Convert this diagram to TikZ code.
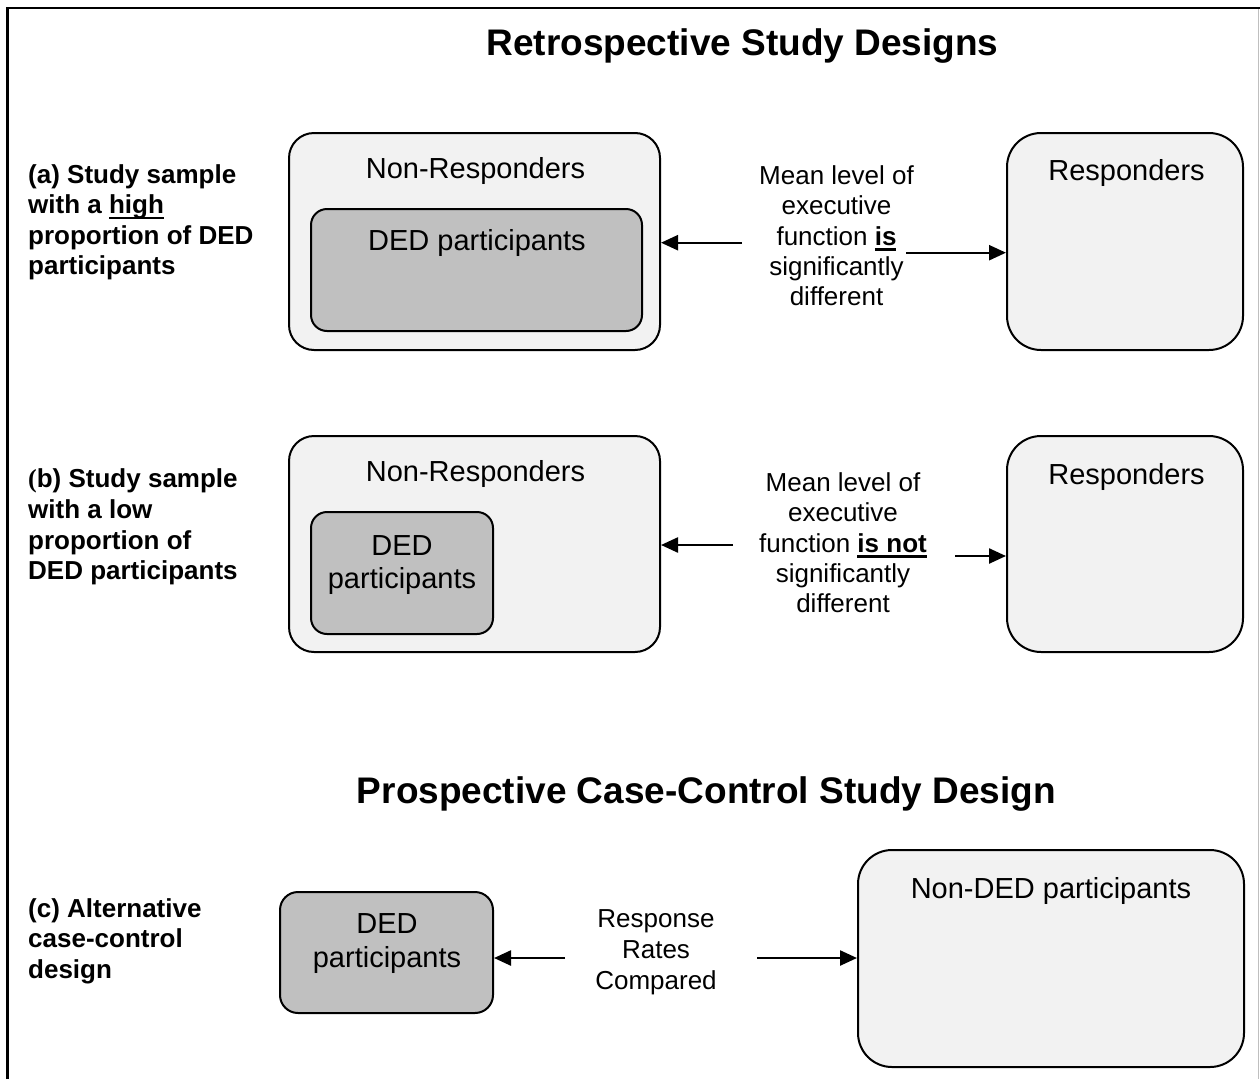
\documentclass[tikz,border=0pt]{standalone}
\usepackage{fontspec}
\setmainfont{Liberation Sans}
\newfontfamily\serifparen{Liberation Serif}
\usetikzlibrary{arrows.meta}
\definecolor{boxlight}{HTML}{F2F2F2}
\definecolor{dedgrey}{HTML}{C0C0C0}
\newcommand\ulbar[1]{\setbox0\hbox{#1}\rlap{\rule[-5.5pt]{\wd0}{2.2pt}}\box0}
\tikzset{
  outerbox/.style={draw=black, line width=2pt, fill=boxlight, inner sep=0pt, rounded corners=25pt},
  dedbox/.style={draw=black, line width=2pt, fill=dedgrey, inner sep=0pt, rounded corners=16pt},
  bigbox/.style={draw=black, line width=2pt, fill=boxlight, inner sep=0pt, rounded corners=34pt},
  titletxt/.style={font=\fontsize{37}{44}\selectfont\bfseries, anchor=base, inner sep=0pt},
  lbltxt/.style={font=\fontsize{26}{30}\selectfont\bfseries, anchor=base west, inner sep=0pt},
  midtxt/.style={font=\fontsize{26}{30}\selectfont, anchor=base, inner sep=0pt},
  boxtxt/.style={font=\fontsize{29}{33}\selectfont, anchor=base, inner sep=0pt},
  arr/.style={line width=2.4pt, -{Triangle[length=17pt,width=15pt]}}
}
\begin{document}
\begin{tikzpicture}[x=1pt,y=-1pt]
\useasboundingbox (0,0) rectangle (1260,1079);
% frame
\draw[line width=2.2pt] (7.5,1079) -- (7.5,8.3) -- (1260,8.3);
\draw[black!25, line width=1pt] (1258.7,9) -- (1258.7,1079);

% titles
\node[titletxt] (t1) at (742.5,55) {Retrospective Study Designs};
\node[titletxt] (t2) at (706.5,803) {Prospective Case-Control Study Design};

% (a)
\node[lbltxt] (la1) at (28,183) {(a) Study sample};
\node[lbltxt] (la2) at (28,213.5) {with a \ulbar{high}};
\node[lbltxt] (la3) at (28,244) {proportion of DED};
\node[lbltxt] (la4) at (28,274.5) {participants};

\node[outerbox, minimum width=371pt, minimum height=217pt] (nra) at (474.5,241.5) {};
\node[dedbox, minimum width=331pt, minimum height=122pt] (deda) at (476.5,270) {};
\node[bigbox, minimum width=236pt, minimum height=217pt] (respa) at (1125,241.5) {};
\node[boxtxt] (nrat) at (475.5,178) {Non-Responders};
\node[boxtxt] (dedat) at (477,250) {DED participants};
\node[boxtxt] (respat) at (1126.5,180) {Responders};

\node[midtxt] (ma1) at (836.5,184) {Mean level of};
\node[midtxt] (ma2) at (836.5,214) {executive};
\node[midtxt] (ma3) at (836.5,245) {function \textbf{\ulbar{is}}};
\node[midtxt] (ma4) at (836.5,275.5) {significantly};
\node[midtxt] (ma5) at (836.5,305) {different};

\coordinate (aL) at (742,242.7);
\coordinate (aR) at (906,252.7);
\draw[arr] (aL) -- (aL -| nra.east);
\draw[arr] (aR) -- (aR -| respa.west);

% (b)
\node[lbltxt] (lb1) at (28,487) {{\serifparen(}b) Study sample};
\node[lbltxt] (lb2) at (28,518) {with a low};
\node[lbltxt] (lb3) at (28,549) {proportion of};
\node[lbltxt] (lb4) at (28,579) {DED participants};

\node[outerbox, minimum width=371pt, minimum height=216pt] (nrb) at (474.5,544) {};
\node[dedbox, minimum width=182pt, minimum height=122pt] (dedb) at (402,573) {};
\node[bigbox, minimum width=236pt, minimum height=216pt] (respb) at (1125,544) {};
\node[boxtxt] (nrbt) at (475.5,481) {Non-Responders};
\node[boxtxt] (dedbt1) at (402,555) {DED};
\node[boxtxt] (dedbt2) at (402,588) {participants};
\node[boxtxt] (respbt) at (1126.5,484) {Responders};

\node[midtxt] (mb1) at (843,491) {Mean level of};
\node[midtxt] (mb2) at (843,521) {executive};
\node[midtxt] (mb3) at (843,552) {function \textbf{\ulbar{is not}}};
\node[midtxt] (mb4) at (843,582) {significantly};
\node[midtxt] (mb5) at (843,612) {different};

\coordinate (bL) at (733,545);
\coordinate (bR) at (955,556);
\draw[arr] (bL) -- (bL -| nrb.east);
\draw[arr] (bR) -- (bR -| respb.west);

% (c)
\node[lbltxt] (lc1) at (28,917) {(c) Alternative};
\node[lbltxt] (lc2) at (28,947) {case-control};
\node[lbltxt] (lc3) at (28,978) {design};

\node[dedbox, rounded corners=18pt, minimum width=213pt, minimum height=121pt] (dedc) at (386.5,952.5) {};
\node[bigbox, minimum width=386pt, minimum height=217pt] (nonded) at (1051,958.5) {};
\node[boxtxt] (dedct1) at (387,933) {DED};
\node[boxtxt] (dedct2) at (387,967) {participants};
\node[boxtxt] (nondedt) at (1051,898) {Non-DED participants};

\node[midtxt] (rc1) at (656,927) {Response};
\node[midtxt] (rc2) at (656,958) {Rates};
\node[midtxt] (rc3) at (656,989) {Compared};

\coordinate (cL) at (565,958);
\coordinate (cR) at (757,958);
\draw[arr] (cL) -- (cL -| dedc.east);
\draw[arr] (cR) -- (cR -| nonded.west);
\end{tikzpicture}
\end{document}
